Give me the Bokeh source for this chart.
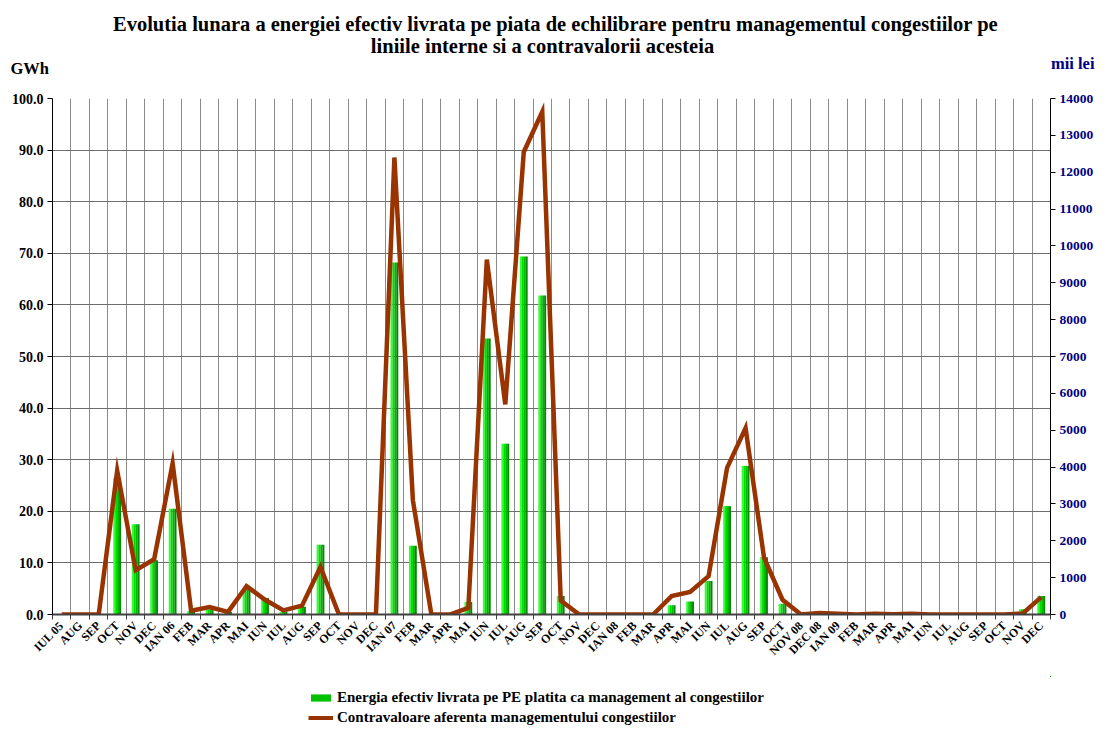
from bokeh.plotting import figure
from bokeh.layouts import column
from bokeh.models import (Range1d, LinearAxis, FixedTicker, Legend, LegendItem,
                          PrintfTickFormatter, Label)
from bokeh.embed import file_html
from bokeh.resources import INLINE
import math

months = ["IUL 05", "AUG", "SEP", "OCT", "NOV", "DEC",
          "IAN 06", "FEB", "MAR", "APR", "MAI", "IUN", "IUL", "AUG", "SEP", "OCT", "NOV", "DEC",
          "IAN 07", "FEB", "MAR", "APR", "MAI", "IUN", "IUL", "AUG", "SEP", "OCT", "NOV", "DEC",
          "IAN 08", "FEB", "MAR", "APR", "MAI", "IUN", "IUL", "AUG", "SEP", "OCT", "NOV 08", "DEC 08",
          "IAN 09", "FEB", "MAR", "APR", "MAI", "IUN", "IUL", "AUG", "SEP", "OCT", "NOV", "DEC"]

energy_gwh = [0, 0, 0, 26.4, 17.5, 10.5,
              20.5, 0.7, 1.0, 0.5, 4.9, 3.2, 0.5, 1.5, 13.5, 0, 0, 0,
              68.2, 13.3, 0, 0, 2.4, 53.5, 33.1, 69.4, 61.8, 3.6, 0, 0,
              0, 0, 0, 1.8, 2.5, 6.5, 21.0, 28.8, 11.1, 2.1, 0, 0,
              0, 0, 0, 0, 0, 0, 0, 0, 0, 0, 1.0, 3.6]

value_mii_lei = [0, 0, 0, 3900, 1200, 1500,
                 4100, 100, 200, 70, 770, 400, 110, 240, 1290, 0, 0, 0,
                 12400, 3100, 0, 0, 180, 9630, 5700, 12550, 13640, 380, 0, 0,
                 0, 0, 0, 500, 610, 1040, 3980, 5060, 1540, 400, 0, 40,
                 20, 0, 20, 10, 20, 0, 0, 0, 0, 0, 30, 470]

title_lines = ["Evolutia lunara a energiei efectiv livrata pe piata de echilibrare pentru managementul congestiilor pe",
               "liniile interne si a contravalorii acesteia"]
bar_label = "Energia efectiv livrata pe PE platita ca management al congestiilor"
line_label = "Contravaloare aferenta managementului congestiilor"

FONT = "Liberation Serif"
BROWN = "#993300"
n = len(months)
centers = [i + 0.5 for i in range(n)]
bounds = list(range(0, n + 1))

p = figure(width=1096, height=676, output_backend="svg", toolbar_location=None,
           x_range=Range1d(0, n), y_range=Range1d(0, 100),
           min_border_left=52, min_border_right=43, min_border_top=98, min_border_bottom=62)
p.title = None
p.outline_line_color = None
p.background_fill_color = "white"

def side_label(text, x, y, align, size, color="black"):
    return Label(x=x, y=y, x_units="screen", y_units="screen", text=text,
                 text_align=align, text_baseline="middle", text_font=FONT,
                 text_font_style="bold", text_font_size=size, text_color=color)

# texts above the frame; first added sits nearest the frame
p.add_layout(side_label("GWh", -42, 30, "left", "16.5px"), "above")
p.add_layout(side_label("mii lei", 1042, 16, "right", "16.5px", "#000080"), "above")
p.add_layout(side_label(title_lines[1], 490, 15, "center", "20.5px"), "above")
p.add_layout(side_label(title_lines[0], 503, 15, "center", "20.5px"), "above")

# left axis
p.yaxis.ticker = FixedTicker(ticks=list(range(0, 101, 10)))
p.yaxis.formatter = PrintfTickFormatter(format="%.1f")
p.yaxis.major_label_text_font = FONT
p.yaxis.major_label_text_font_style = "bold"
p.yaxis.major_label_text_font_size = "14px"
p.yaxis.major_label_text_color = "black"
p.yaxis.axis_line_color = "black"
p.yaxis.major_tick_out = 5
p.yaxis.major_tick_in = 0
p.yaxis.minor_tick_out = 0
p.yaxis.minor_tick_in = 0
p.yaxis.major_label_standoff = 4

# right axis
p.extra_y_ranges = {"lei": Range1d(0, 14000)}
rax = LinearAxis(y_range_name="lei", ticker=FixedTicker(ticks=list(range(0, 14001, 1000))))
rax.major_label_text_font = FONT
rax.major_label_text_font_style = "bold"
rax.major_label_text_font_size = "13.5px"
rax.major_label_text_color = "#000080"
rax.axis_line_color = "black"
rax.major_tick_out = 5
rax.major_tick_in = 0
rax.minor_tick_out = 0
rax.minor_tick_in = 0
rax.major_label_standoff = 4
p.add_layout(rax, "right")

# bottom axis
p.xaxis.ticker = FixedTicker(ticks=centers, minor_ticks=bounds)
p.xaxis.major_label_overrides = {c: m for c, m in zip(centers, months)}
p.xaxis.major_label_orientation = math.pi / 4
p.xaxis.major_label_text_font = FONT
p.xaxis.major_label_text_font_style = "bold"
p.xaxis.major_label_text_font_size = "12px"
p.xaxis.major_label_text_color = "black"
p.xaxis.major_tick_out = 0
p.xaxis.major_tick_in = 0
p.xaxis.minor_tick_out = 5
p.xaxis.minor_tick_in = 0
p.xaxis.minor_tick_line_color = "#404040"
p.xaxis.axis_line_color = "#404040"
p.xaxis.axis_line_width = 2
p.xaxis.major_label_standoff = 4

# grids
p.xgrid.ticker = FixedTicker(ticks=bounds)
p.xgrid.grid_line_color = "#8c8c8c"
p.ygrid.ticker = FixedTicker(ticks=list(range(10, 101, 10)))
p.ygrid.grid_line_color = "#6e6e6e"

# bars with green gradient made of strips
strip_colors = ["#33ff33", "#00dd00", "#00b300", "#008a00"]
bw = 0.42
sw = bw / len(strip_colors)
for k, col in enumerate(strip_colors):
    off = -bw / 2 + sw * (k + 0.5)
    p.vbar(x=[c + off for c in centers], top=energy_gwh, width=sw * 1.02,
           fill_color=col, line_color=None)

p.line(x=centers, y=value_mii_lei, y_range_name="lei",
       line_color=BROWN, line_width=4.5, line_join="miter")

# legend strip below the chart (series placed far outside its visible ranges; only the legend shows)
pl = figure(width=1096, height=50, output_backend="svg", toolbar_location=None,
            x_range=Range1d(-3 * n, -2 * n), y_range=Range1d(-2, -1),
            x_axis_location=None, y_axis_location=None,
            min_border_left=0, min_border_right=0, min_border_top=0, min_border_bottom=0)
pl.title = None
pl.outline_line_color = None
pl.grid.visible = False
leg_bar = pl.vbar(x=centers, top=energy_gwh, width=0.42, fill_color="#00c000", line_color=None)
leg_line = pl.line(x=centers, y=value_mii_lei, line_color=BROWN, line_width=4)

legend = Legend(items=[LegendItem(label=bar_label, renderers=[leg_bar]),
                       LegendItem(label=line_label, renderers=[leg_line])],
                location=(256, 0), orientation="vertical")
legend.padding = 0
legend.margin = 0
legend.spacing = 2
legend.border_line_color = None
legend.background_fill_alpha = 0
legend.label_text_font = FONT
legend.label_text_font_style = "bold"
legend.label_text_font_size = "15px"
legend.label_text_color = "black"
legend.glyph_width = 25
legend.glyph_height = 9
legend.label_height = 18
legend.label_standoff = 4
pl.add_layout(legend, "center")

layout = column(p, pl, spacing=0)
open("out.html", "w").write(file_html(layout, INLINE))
